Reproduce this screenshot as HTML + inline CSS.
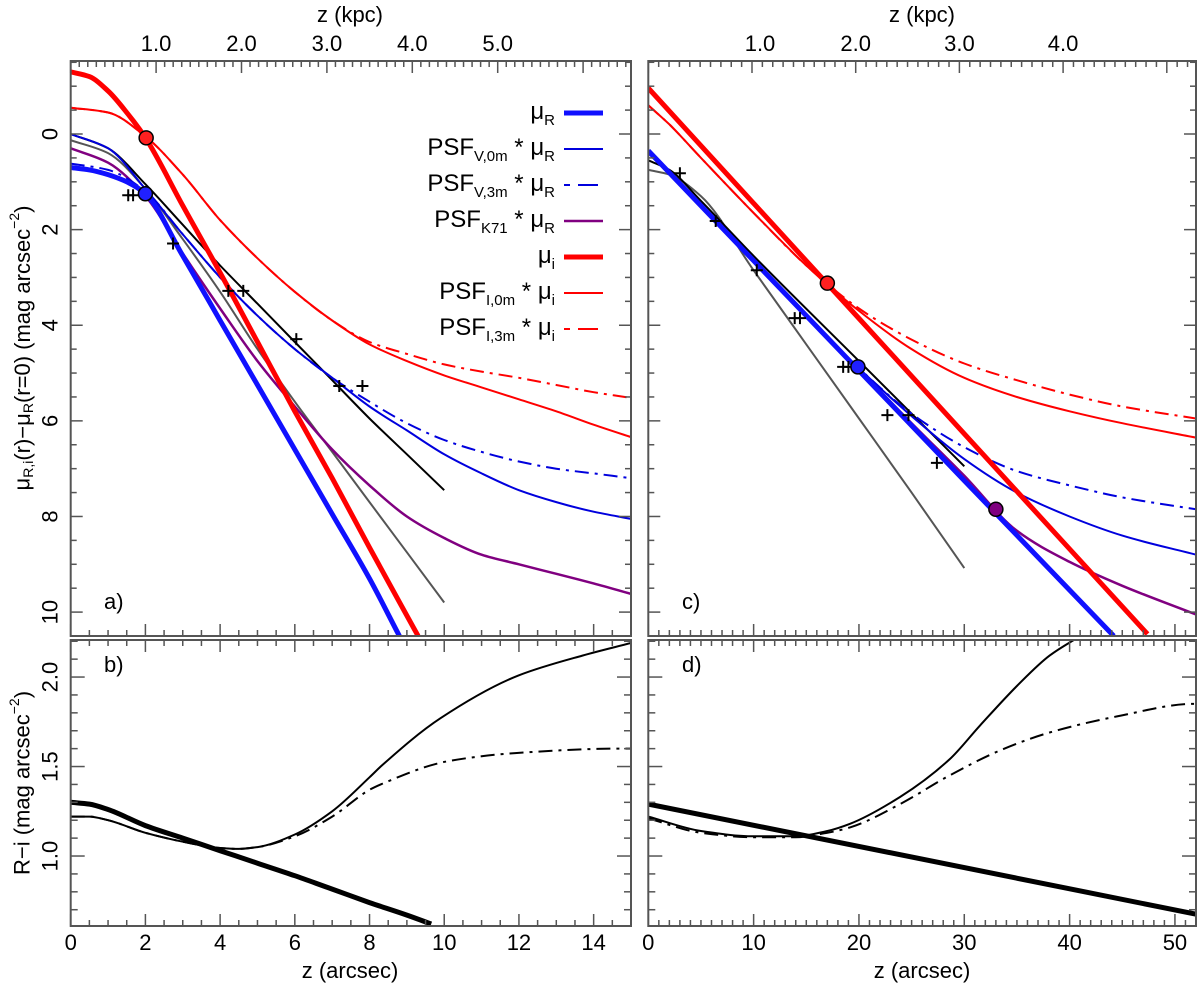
<!DOCTYPE html>
<html><head><meta charset="utf-8"><style>
html,body{margin:0;padding:0;background:#fff}
svg{display:block;font-family:"Liberation Sans",sans-serif}
</style></head><body>
<svg id="fig" xmlns="http://www.w3.org/2000/svg" width="1200" height="991" viewBox="0 0 1200 991">
<defs>
<clipPath id="cA"><rect x="70.7" y="61" width="560.3" height="575"/></clipPath>
<clipPath id="cB"><rect x="70.7" y="640" width="560.3" height="286"/></clipPath>
<clipPath id="cC"><rect x="648.3" y="61" width="547.7" height="575"/></clipPath>
<clipPath id="cD"><rect x="648.3" y="640" width="547.7" height="286"/></clipPath>
</defs>
<g id="root"></g>
</svg>
<script>
// ---- data ----
const aMuRx=[0,0.5,1,1.5,2,3,4,5,6,7,8,8.8];
const aMuRy=[0.7,0.75,0.85,1.0,1.25,2.55,3.9,5.25,6.6,7.95,9.3,10.5];
const aMuIx=[0,0.5,1,1.5,2,3,4,5,6,7,8,9.3];
const aMuIy=[-1.3,-1.2,-0.9,-0.45,0.08,1.5,2.9,4.35,5.8,7.2,8.65,10.5];
const aGx=[0,1,2,3,4,5,6,7,8,9,10,11,12,13,14,15];
const aI0=[-0.55,-0.45,0.05,0.85,1.8,2.6,3.3,3.9,4.4,4.75,5.05,5.3,5.55,5.8,6.08,6.34];
const aI3=[-0.55,-0.45,0.05,0.85,1.8,2.6,3.3,3.9,4.35,4.6,4.82,4.97,5.1,5.25,5.4,5.52];
const aV0=[0,0.3,1.15,2.1,3.0,3.8,4.5,5.1,5.7,6.2,6.7,7.1,7.45,7.7,7.9,8.05];
const aV3=[0.62,0.75,1.2,2.1,3.0,3.8,4.5,5.1,5.6,6.05,6.4,6.65,6.85,7.0,7.1,7.2];
const aK71=[0.3,0.6,1.3,2.5,3.65,4.75,5.7,6.6,7.35,8.0,8.45,8.8,9.0,9.2,9.4,9.62];
const aFitx=[0,1,2,3,4,5,6,7,8,9,10];
const aGray=[0.13,0.4,1.15,2.2,3.3,4.5,5.6,6.65,7.7,8.75,9.8];
const aBlack=[0,0.3,1.05,1.9,2.75,3.55,4.35,5.15,5.95,6.7,7.45];
const aCrossX=[1.54,1.67,2.74,4.22,4.62,6.04,7.19,7.81];
const aCrossY=[1.28,1.28,2.29,3.28,3.28,4.29,5.27,5.27];
const aDotX=[2.02,2.0]; const aDotY=[0.08,1.25];

const rMuRx=[0,10,20,30,44.2]; const rMuRy=[0.35,2.65,4.95,7.25,10.5];
const rMuIx=[0,10,20,30,40,47.4]; const rMuIy=[-0.96,1.45,3.86,6.27,8.68,10.46];
const rIx=[0,2,5,10,15,20,25,30,35,40,45,52];
const rI0=[-0.6,-0.2,0.5,1.65,2.75,3.7,4.5,5.1,5.5,5.8,6.05,6.35];
const rI3=[-0.6,-0.2,0.5,1.65,2.75,3.65,4.3,4.8,5.15,5.45,5.7,5.95];
const rVx=[0,5,10,15,20,25,30,35,40,45,52];
const rV0=[0.4,1.5,2.65,3.8,4.9,5.9,6.8,7.5,8.0,8.4,8.8];
const rV3=[0.4,1.5,2.65,3.8,4.9,5.85,6.55,7.05,7.35,7.6,7.85];
const rK71=[0.35,1.5,2.65,3.8,4.92,6.05,7.15,8.3,8.95,9.45,10.05];
const rGrayx=[0,2,5,10,15,20,25,30]; const rGray=[0.75,0.85,1.3,2.85,4.4,5.95,7.5,9.08];
const rBlackx=[0,2,5,10,20,30]; const rBlack=[0.55,0.75,1.4,2.55,4.75,6.95];
const rCrossX=[3.0,6.4,10.3,13.9,14.4,18.5,19.0,22.7,24.7,27.4];
const rCrossY=[0.82,1.82,2.85,3.85,3.85,4.87,4.87,5.88,5.88,6.88];
const rDotX=[17,19.9,33]; const rDotY=[3.12,4.87,7.85];

const bThickx=[0,0.5,1,2,3,4,5,6,7,8,9,9.65];
const bThick=[1.30,1.29,1.26,1.17,1.10,1.03,0.96,0.89,0.815,0.74,0.67,0.62];
const bThinx=[0,0.5,1,2,3,4,4.5,5,6,7,8,8.3,9.9,12,13.7,15];
const bThin=[1.22,1.22,1.2,1.13,1.08,1.045,1.04,1.05,1.12,1.25,1.44,1.50,1.77,2.01,2.12,2.19];
const bDashx=[0,0.5,1,2,3,4,4.5,5,6,7,8,8.3,10.1,11.9,14.7,15];
const bDash=[1.22,1.22,1.2,1.13,1.08,1.045,1.04,1.05,1.11,1.22,1.37,1.40,1.53,1.575,1.6,1.6];
const dThickx=[0,52]; const dThick=[1.29,0.675];
const dThinx=[0,5,10,14,17,19.15,23.9,28.6,31.5,35,38.1,40.2,42];
const dThin=[1.22,1.14,1.11,1.11,1.14,1.18,1.33,1.54,1.73,1.95,2.12,2.20,2.26];
const dDashx=[0,5,10,14,17,19.15,23.9,28.6,33.4,38.1,44.5,51.8,52];
const dDash=[1.21,1.13,1.105,1.105,1.13,1.16,1.29,1.45,1.59,1.69,1.78,1.85,1.85];

const lxTicks=[0,2,4,6,8,10,12,14];
const rxTicks=[0,10,20,30,40,50];
const yTopTicks=[0,2,4,6,8,10];
const yBotTicks=[1.0,1.5,2.0];
const lKpc=[1,2,3,4,5]; const rKpc=[1,2,3,4];

// ---- axes ----
const P={
 a:{x0:70.7,x1:631,xmin:0,xmax:15,y0:61,y1:636,ymin:-1.527,ymax:10.5,inv:true,clip:'cA'},
 b:{x0:70.7,x1:631,xmin:0,xmax:15,y0:640,y1:926,ymin:0.609,ymax:2.207,inv:false,clip:'cB'},
 c:{x0:648.3,x1:1196,xmin:0,xmax:52,y0:61,y1:636,ymin:-1.527,ymax:10.5,inv:true,clip:'cC'},
 d:{x0:648.3,x1:1196,xmin:0,xmax:52,y0:640,y1:926,ymin:0.609,ymax:2.207,inv:false,clip:'cD'}
};
function X(p,v){return p.x0+(v-p.xmin)/(p.xmax-p.xmin)*(p.x1-p.x0);}
function Y(p,v){const t=(v-p.ymin)/(p.ymax-p.ymin);return p.inv?p.y0+t*(p.y1-p.y0):p.y1-t*(p.y1-p.y0);}
const NS='http://www.w3.org/2000/svg';
const root=document.getElementById('root');
function mk(tag,attrs,parent){const e=document.createElementNS(NS,tag);for(const k in attrs)e.setAttribute(k,attrs[k]);(parent||root).appendChild(e);return e;}
// monotone cubic (Fritsch-Carlson) path for smooth curves with uneven spacing
function smooth(pts){
 const n=pts.length;
 if(n<3){return 'M'+pts.map(p=>p[0].toFixed(1)+','+p[1].toFixed(1)).join('L');}
 const dx=[],s=[];
 for(let i=0;i<n-1;i++){dx.push(pts[i+1][0]-pts[i][0]);s.push((pts[i+1][1]-pts[i][1])/dx[i]);}
 const m=[s[0]];
 for(let i=1;i<n-1;i++){
  if(s[i-1]*s[i]<=0)m.push(0);
  else{const w1=2*dx[i]+dx[i-1],w2=dx[i]+2*dx[i-1];m.push((w1+w2)/(w1/s[i-1]+w2/s[i]));}
 }
 m.push(s[n-2]);
 let d='M'+pts[0][0].toFixed(1)+','+pts[0][1].toFixed(1);
 for(let i=0;i<n-1;i++){
  const h=dx[i]/3;
  d+='C'+(pts[i][0]+h).toFixed(1)+','+(pts[i][1]+m[i]*h).toFixed(1)+' '+(pts[i+1][0]-h).toFixed(1)+','+(pts[i+1][1]-m[i+1]*h).toFixed(1)+' '+pts[i+1][0].toFixed(1)+','+pts[i+1][1].toFixed(1);
 }
 return d;
}
const groups={};
for(const k in P){
 const g=mk('g',{'clip-path':'url(#'+P[k].clip+')'});
 
 
 groups[k]=g;
}
function curve(k,xs,ys,color,w,dash,name){
 const p=P[k];const pts=xs.map((x,i)=>[X(p,x),Y(p,ys[i])]);
 const e=mk('path',{d:smooth(pts),fill:'none',stroke:color,'stroke-width':w,'stroke-linecap':'butt','stroke-linejoin':'round'},groups[k]);
 if(dash)e.setAttribute('stroke-dasharray',dash);
 
 
}
const DD='14 6 3 6';
// panel a
curve('a',aFitx,aGray,'#555',2,null,'gray-fit-a');
curve('a',aFitx,aBlack,'#000',2,null,'black-fit-a');
curve('a',aGx,aK71,'#800080',2.5,null,'psf-k71-mu-r-a');
curve('a',aGx,aV3,'#0000dd',2,DD,'psf-v3m-mu-r-a');
curve('a',aGx,aV0,'#0000dd',2,null,'psf-v0m-mu-r-a');
curve('a',aGx,aI3,'#ff0000',2,DD,'psf-i3m-mu-i-a');
curve('a',aGx,aI0,'#ff0000',2,null,'psf-i0m-mu-i-a');
curve('a',aMuRx,aMuRy,'#1010ff',5,null,'mu-r-a');
curve('a',aMuIx,aMuIy,'#ff0000',5,null,'mu-i-a');
// panel c
curve('c',rGrayx,rGray,'#555',2,null,'gray-fit-c');
curve('c',rBlackx,rBlack,'#000',2,null,'black-fit-c');
curve('c',rVx,rK71,'#800080',2.5,null,'psf-k71-mu-r-c');
curve('c',rVx,rV3,'#0000dd',2,DD,'psf-v3m-mu-r-c');
curve('c',rVx,rV0,'#0000dd',2,null,'psf-v0m-mu-r-c');
curve('c',rIx,rI3,'#ff0000',2,DD,'psf-i3m-mu-i-c');
curve('c',rIx,rI0,'#ff0000',2,null,'psf-i0m-mu-i-c');
curve('c',rMuRx,rMuRy,'#1010ff',5,null,'mu-r-c');
curve('c',rMuIx,rMuIy,'#ff0000',5,null,'mu-i-c');
// panels b,d
curve('b',bDashx,bDash,'#000',2,DD,'color-psf-3m-b');
curve('b',bThinx,bThin,'#000',2,null,'color-psf-0m-b');
curve('b',bThickx,bThick,'#000',5,null,'color-intrinsic-b');
curve('d',dDashx,dDash,'#000',2,DD,'color-psf-3m-d');
curve('d',dThinx,dThin,'#000',2,null,'color-psf-0m-d');
curve('d',dThickx,dThick,'#000',5,null,'color-intrinsic-d');
// crosses & dots
function crosses(k,xs,ys){xs.forEach((x,i)=>{const cx=X(P[k],x),cy=Y(P[k],ys[i]);
 const e=mk('path',{d:`M${cx-6},${cy}h12M${cx},${cy-6}v12`,stroke:'#000','stroke-width':2,fill:'none'},groups[k]);
 
 });}
crosses('a',aCrossX,aCrossY);crosses('c',rCrossX,rCrossY);
function dots(k,xs,ys,cols){xs.forEach((x,i)=>{
 const e=mk('circle',{cx:X(P[k],x),cy:Y(P[k],ys[i]),r:7,fill:cols[i],stroke:'#000','stroke-width':1.5},groups[k]);
 
 });}
dots('a',aDotX,aDotY,['#ff2020','#2020ff']);
dots('c',rDotX,rDotY,['#ff2020','#2020ff','#800080']);

// frames & ticks
const FC='#555';
function tick(x1,y1,x2,y2){const e=mk('line',{x1,y1,x2,y2,stroke:FC,'stroke-width':1.5});
 
 }
for(const k in P){const p=P[k];
 const r=mk('rect',{x:p.x0,y:p.y0,width:p.x1-p.x0,height:p.y1-p.y0,fill:'none',stroke:FC,'stroke-width':2});
 
 
 const minorStep=(p.xmax===15)?0.5:1, majorStep=(p.xmax===15)?2:10;
 for(let v=0;v<=p.xmax+1e-6;v+=minorStep){const x=X(p,v);const big=Math.abs(v/majorStep-Math.round(v/majorStep))<1e-6;const L=big?12:6;
  tick(x,p.y1,x,p.y1-L);
  if(k==='b'||k==='d')tick(x,p.y0,x,p.y0+L);}
 if(p.inv){for(let v=-1.5;v<=10.5;v+=0.5){const y=Y(p,v);const big=Math.abs(v%2)<1e-6;const L=big?12:6;tick(p.x0,y,p.x0+L,y);tick(p.x1,y,p.x1-L,y);}}
 else{for(let i=7;i<=22;i++){const v=i/10;const y=Y(p,v);const big=(i%5===0);const L=big?14:7;tick(p.x0,y,p.x0+L,y);tick(p.x1,y,p.x1-L,y);}}
}
function kpcTicks(p,pxPerKpc){for(let i=0;;i++){const x=p.x0+i*pxPerKpc/10;if(x>p.x1)break;tick(x,p.y0,x,p.y0+(i%10===0?12:6));}}
kpcTicks(P.a,85.4);kpcTicks(P.c,103.7);

function text(x,y,s,opts){const e=mk('text',Object.assign({x,y,'font-size':22,fill:'#000','text-anchor':'middle'},opts||{}));e.innerHTML=s;return e;}
function named(e,n){}
lxTicks.forEach(v=>{named(text(X(P.b,v),950,v),'x-tick-label');});
rxTicks.forEach(v=>{named(text(X(P.d,v),950,v),'x-tick-label');});
lKpc.forEach(v=>{named(text(P.a.x0+v*85.4,51,v.toFixed(1)),'kpc-tick-label');});
rKpc.forEach(v=>{named(text(P.c.x0+v*103.7+(v===1?8:0),51,v.toFixed(1)),'kpc-tick-label');});
yTopTicks.forEach(v=>{const y=Y(P.a,v);const e=text(50,y,v,{transform:`rotate(-90 50 ${y})`,'dominant-baseline':'central'});named(e,'y-tick-label');});
yBotTicks.forEach(v=>{const y=Y(P.b,v);const e=text(50,y,v.toFixed(1),{transform:`rotate(-90 50 ${y})`,'dominant-baseline':'central'});named(e,'y-tick-label');});
named(text(350,978,'z (arcsec)'),'x-axis-title-left');
named(text(922,978,'z (arcsec)'),'x-axis-title-right');
named(text(350,22,'z (kpc)'),'kpc-axis-title-left');
named(text(922,22,'z (kpc)'),'kpc-axis-title-right');
named(text(22,348,'μ<tspan font-size="14" dy="6">R,i</tspan><tspan dy="-6">(r)−μ</tspan><tspan font-size="14" dy="6">R</tspan><tspan dy="-6">(r=0) (mag arcsec</tspan><tspan font-size="14" dy="-8">−2</tspan><tspan dy="8">)</tspan>',{transform:'rotate(-90 22 348)','dominant-baseline':'central'}),'y-axis-title-top');
named(text(22,783,'R−i (mag arcsec<tspan font-size="14" dy="-8">−2</tspan><tspan dy="8">)</tspan>',{transform:'rotate(-90 22 783)','dominant-baseline':'central'}),'y-axis-title-bottom');
named(text(104,609,'a)',{'text-anchor':'start'}),'panel-label-a');
named(text(104,672,'b)',{'text-anchor':'start'}),'panel-label-b');
named(text(682,609,'c)',{'text-anchor':'start'}),'panel-label-c');
named(text(682,672,'d)',{'text-anchor':'start'}),'panel-label-d');
// legend
const legLabels=['μ<tspan font-size="15" dy="6">R</tspan>',
 'PSF<tspan font-size="15" dy="6">V,0m</tspan><tspan dy="-6"> * μ</tspan><tspan font-size="15" dy="6">R</tspan>',
 'PSF<tspan font-size="15" dy="6">V,3m</tspan><tspan dy="-6"> * μ</tspan><tspan font-size="15" dy="6">R</tspan>',
 'PSF<tspan font-size="15" dy="6">K71</tspan><tspan dy="-6"> * μ</tspan><tspan font-size="15" dy="6">R</tspan>',
 'μ<tspan font-size="15" dy="6">i</tspan>',
 'PSF<tspan font-size="15" dy="6">I,0m</tspan><tspan dy="-6"> * μ</tspan><tspan font-size="15" dy="6">i</tspan>',
 'PSF<tspan font-size="15" dy="6">I,3m</tspan><tspan dy="-6"> * μ</tspan><tspan font-size="15" dy="6">i</tspan>'];
const legCol=['#1010ff','#0000dd','#0000dd','#800080','#ff0000','#ff0000','#ff0000'];
const legW=[5,2,2,2.5,5,2,2];
const legDash=[null,null,'6 8 14 0',null,null,null,'6 8 14 0'];
const lg=mk('g',{});named(lg,'legend');
legLabels.forEach((s,i)=>{const cy=113+i*36;
 const t=mk('text',{x:555,y:cy+6,'font-size':24,'text-anchor':'end',fill:'#000'},lg);t.innerHTML=s;
 
 
 const l=mk('line',{x1:564,y1:cy,x2:603,y2:cy,stroke:legCol[i],'stroke-width':legW[i]},lg);
 if(legDash[i])l.setAttribute('stroke-dasharray',legDash[i]);
 
 
});
</script>
</body></html>
